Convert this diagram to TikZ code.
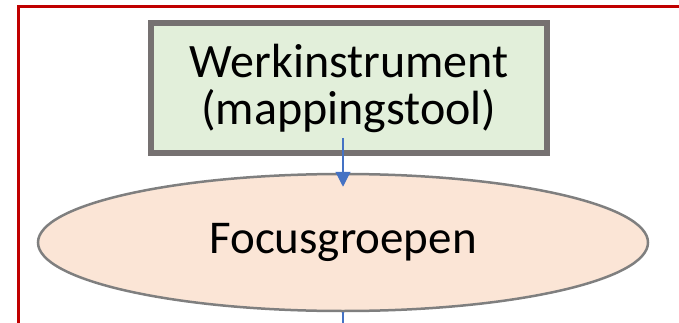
\documentclass[tikz,border=0pt]{standalone}
\usepackage{fontspec}
\setmainfont{Carlito}
\usetikzlibrary{shapes.geometric,arrows.meta}
\definecolor{framered}{HTML}{C00000}
\definecolor{boxfill}{HTML}{E2EFDA}
\definecolor{boxline}{HTML}{767171}
\definecolor{ellfill}{HTML}{FBE5D6}
\definecolor{ellline}{HTML}{7F7F7F}
\definecolor{arrowblue}{HTML}{4472C4}
\tikzset{
  frameline/.style={draw=framered,line width=3pt},
  toolbox/.style={rectangle,draw=boxline,fill=boxfill,line width=6pt,minimum width=396pt,minimum height=130pt,inner sep=0pt,align=center,font=\fontsize{48}{47}\selectfont},
  focusell/.style={ellipse,draw=ellline,fill=ellfill,line width=2.5pt,minimum width=610pt,minimum height=137pt,inner sep=0pt,font=\fontsize{47}{47}\selectfont},
  conn/.style={draw=arrowblue,line width=1.2pt}
}
\begin{document}
\begin{tikzpicture}[x=1pt,y=-1pt]
\useasboundingbox (0,0) rectangle (679,323);
\coordinate (fl) at (18,340);
\coordinate (ftl) at (18,7);
\coordinate (ftr) at (700,7);
\draw[frameline] (fl) -- (ftl) -- (ftr);
\node[toolbox] (tool) at (349,88) {Werkinstrument\\(mappingstool)};
\node[focusell] (focus) at (343,242.5) {Focusgroepen};
\coordinate (bot) at (343,340);
\draw[conn,-{Triangle[width=15pt,length=15pt]}] ([yshift=18pt]tool.south -| focus.north) -- ([yshift=-14pt]focus.north);
\draw[conn] (focus.south) -- (bot);
\end{tikzpicture}
\end{document}
